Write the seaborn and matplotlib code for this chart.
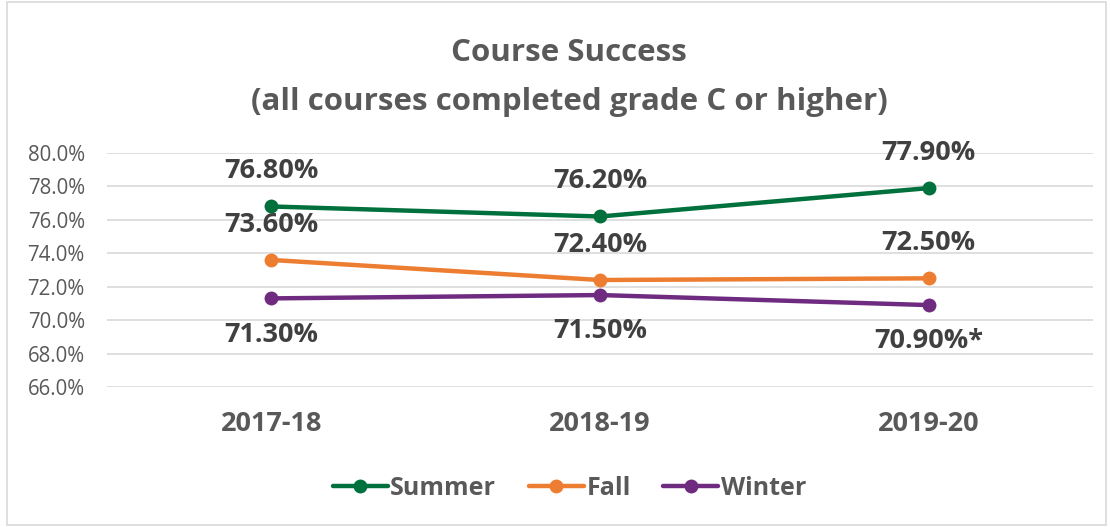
import pandas as pd
import matplotlib
matplotlib.use('Agg')
import matplotlib.pyplot as plt
from matplotlib.patches import Rectangle
from matplotlib.ticker import FuncFormatter
import seaborn as sns

# Data
years = ['2017-18', '2018-19', '2019-20']
summer = [76.8, 76.2, 77.9]
fall = [73.6, 72.4, 72.5]
winter = [71.3, 71.5, 70.9]
terms = ['Summer', 'Fall', 'Winter']
winter_note = ['', '', '*']

colors = {'Summer': '#00703C', 'Fall': '#ED7D31', 'Winter': '#6E2B80'}
TEXT_GREY = '#595959'
LABEL_DARK = '#404040'

sns.set_theme(style="white")
plt.rcParams['font.family'] = ['Open Sans', 'DejaVu Sans']

df = pd.DataFrame({
    'Year': years * 3,
    'Rate': summer + fall + winter,
    'Term': [t for t in terms for _ in years],
})

fig = plt.figure(figsize=(11.1, 5.27), dpi=100)
ax = fig.add_axes([0.0964, 0.2657, 0.8883, 0.444])

sns.lineplot(data=df, x='Year', y='Rate', hue='Term', palette=colors,
             marker='o', markersize=10, markeredgewidth=0, linewidth=3.2,
             sort=False, ax=ax, legend=False)

ax.set_xlim(-0.5, 2.5)
ax.set_ylim(66, 80)
ax.set_yticks(range(66, 81, 2))
ax.yaxis.set_major_formatter(FuncFormatter(lambda v, _: f'{v:.1f}%'))
ax.grid(axis='y', color='#D9D9D9', linewidth=1.2)
ax.set_axisbelow(True)
for s in ax.spines.values():
    s.set_visible(False)
ax.set_xlabel('')
ax.set_ylabel('')
ax.tick_params(axis='y', labelsize=14.8, labelcolor=TEXT_GREY, length=0, pad=16)
ax.tick_params(axis='x', labelsize=19.5, labelcolor=TEXT_GREY, length=0, pad=17)
for lbl in ax.get_xticklabels():
    lbl.set_fontweight('bold')

# data labels: summer & fall above, winter below
label_kw = dict(textcoords='offset points', ha='center', va='center',
                fontsize=19.5, fontweight='bold', color=LABEL_DARK)
for i, v in enumerate(summer):
    ax.annotate(f'{v:.2f}%', (i, v), xytext=(0, 25.5), **label_kw)
for i, v in enumerate(fall):
    ax.annotate(f'{v:.2f}%', (i, v), xytext=(0, 25.5), **label_kw)
for i, v in enumerate(winter):
    ax.annotate(f'{v:.2f}%{winter_note[i]}', (i, v), xytext=(0, -26), **label_kw)

fig.text(0.513, 0.90, 'Course Success', ha='center', va='center',
         fontsize=22.5, fontweight='bold', color=TEXT_GREY)
fig.text(0.513, 0.806, '(all courses completed grade C or higher)', ha='center',
         va='center', fontsize=22.5, fontweight='bold', color=TEXT_GREY)

handles = [plt.Line2D([], [], color=colors[t], marker='o', markersize=10,
                      linewidth=3.2, markeredgewidth=0) for t in terms]
leg = fig.legend(handles, terms, loc='center', bbox_to_anchor=(0.513, 0.073),
                 ncol=3, frameon=False, handlelength=2.2, handletextpad=0.1,
                 columnspacing=1.3, prop={'size': 18, 'weight': 'bold'})
for t in leg.get_texts():
    t.set_color(TEXT_GREY)

fig.patches.append(Rectangle((0.006, 0.004), 0.99, 0.992, transform=fig.transFigure,
                             fill=False, edgecolor='#D9D9D9', linewidth=1.2))

fig.savefig('out.png', dpi=100)
